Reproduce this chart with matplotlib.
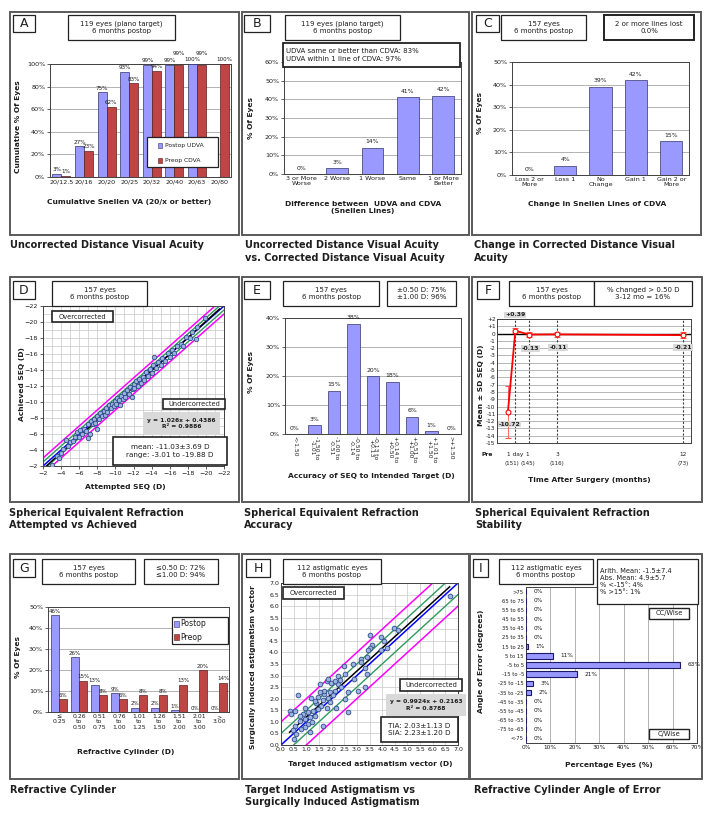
import numpy as np
import matplotlib
matplotlib.use('Agg')
import matplotlib.pyplot as plt
from matplotlib.patches import Rectangle
from matplotlib.transforms import blended_transform_factory

# ---------------- data ----------------
a_cats = ['20/12.5', '20/16', '20/20', '20/25', '20/32', '20/40', '20/63', '20/80']
a_udva = [3, 27, 75, 93, 99, 99, 100, np.nan]
a_cdva = [1, 23, 62, 83, 94, 99, 99, 100]

b_cats = ['3 or More\nWorse', '2 Worse', '1 Worse', 'Same', '1 or More\nBetter']
b_vals = [0, 3, 14, 41, 42]

c_cats = ['Loss 2 or\nMore', 'Loss 1', 'No\nChange', 'Gain 1', 'Gain 2 or\nMore']
c_vals = [0, 4, 39, 42, 15]

d_attempted = [-3.0, -3.5, -3.8, -4.0, -4.2, -4.5, -4.8, -5.0, -5.3, -5.5,
               -5.8, -6.0, -6.1, -6.3, -6.5, -6.8, -7.0, -7.0, -7.2, -7.3,
               -7.5, -7.6, -7.8, -8.0, -8.0, -8.2, -8.3, -8.5, -8.7, -8.8,
               -9.0, -9.1, -9.3, -9.5, -9.6, -9.8, -10.0, -10.1, -10.2, -10.4,
               -10.5, -10.6, -10.8, -11.0, -11.1, -11.3, -11.5, -11.6, -11.8, -11.9,
               -12.0, -12.1, -12.3, -12.5, -12.6, -12.8, -13.0, -13.2, -13.4, -13.6,
               -13.8, -14.0, -14.2, -14.3, -14.5, -14.7, -15.0, -15.2, -15.5, -15.8,
               -16.0, -16.3, -16.5, -16.8, -17.2, -17.5, -17.8, -18.2, -18.5, -18.9,
               -19.0, -19.9]
d_achieved = [-2.1, -3.3, -3.0, -3.6, -4.1, -5.2, -4.5, -5.0, -5.1, -5.6,
              -6.3, -5.6, -6.5, -6.0, -6.6, -6.4, -5.5, -7.2, -6.0, -7.6,
              -7.2, -7.9, -7.4, -6.6, -8.2, -7.9, -8.6, -8.3, -8.9, -8.4,
              -9.2, -8.7, -9.6, -9.2, -9.8, -9.5, -10.1, -9.7, -10.5, -10.2,
              -9.6, -10.8, -10.4, -11.1, -10.6, -11.5, -11.0, -11.9, -10.6, -11.6,
              -12.2, -11.8, -12.6, -12.0, -12.9, -12.4, -13.1, -12.8, -13.7, -13.2,
              -14.1, -13.6, -14.6, -15.6, -14.2, -15.0, -14.6, -15.5, -15.1, -16.1,
              -15.6, -16.5, -16.1, -17.0, -17.3, -17.0, -18.1, -18.0, -18.7, -17.9,
              -19.4, -20.5]
d_slope, d_icpt, d_r2 = 1.026, 0.4386, 0.9886

e_cats = ['<-1.50', '-1.50 to\n-1.01', '-1.00 to\n-0.51', '-0.50 to\n-0.14', '-0.13 to\n+0.13',
          '+0.14 to\n+0.50', '+0.51 to\n+1.00', '+1.01 to\n+1.50', '>+1.50']
e_vals = [0, 3, 15, 38, 20, 18, 6, 1, 0]

f_time = [-0.5, 0.03, 1, 3, 12]
f_mean = [-10.72, 0.39, -0.13, -0.11, -0.21]
f_sd = [3.6, 0.35, 0.3, 0.35, 0.4]
f_lab = ['-10.72', '+0.39', '-0.13', '-0.11', '-0.21']

g_cats = ['≤\n0.25', '0.26\nto\n0.50', '0.51\nto\n0.75', '0.76\nto\n1.00', '1.01\nto\n1.25',
          '1.26\nto\n1.50', '1.51\nto\n2.00', '2.01\nto\n3.00', '>\n3.00']
g_post = [46, 26, 13, 9, 2, 2, 1, 0, 0]
g_pre = [6, 15, 8, 6, 8, 8, 13, 20, 14]

h_tia = [6.67, 4.45, 4.63, 3.51, 3.97, 4.06, 3.60, 3.50, 3.44, 4.20,
         3.97, 3.41, 3.15, 3.18, 2.49, 2.85, 3.31, 2.52, 2.25, 2.89,
         3.41, 3.31, 2.65, 1.83, 1.53, 1.99, 2.25, 2.39, 2.12, 1.92,
         1.72, 2.05, 1.86, 1.66, 1.46, 1.20, 0.67, 1.40, 1.60, 1.80,
         2.19, 1.46, 1.27, 1.07, 2.65, 0.87, 1.33, 1.13, 0.94, 0.34,
         0.54, 0.41, 0.74, 1.07, 1.66, 0.54, 0.81, 0.47, 1.13, 0.51,
         0.60, 0.94, 1.24, 2.12, 2.32, 1.86, 1.72, 1.53, 1.33, 0.94,
         0.74, 1.92, 2.52, 3.04]
h_sia = [6.42, 5.04, 4.98, 4.77, 4.68, 4.50, 4.30, 4.20, 4.10, 4.20,
         4.10, 3.80, 3.70, 3.60, 3.40, 3.50, 3.33, 3.07, 3.00, 2.85,
         3.07, 2.50, 2.28, 2.78, 2.64, 2.67, 2.64, 2.50, 2.35, 2.28,
         2.20, 2.14, 2.03, 1.95, 2.06, 2.03, 2.17, 1.80, 1.70, 1.62,
         1.60, 1.56, 1.48, 1.41, 1.41, 1.34, 1.27, 1.20, 1.12, 1.48,
         1.48, 1.34, 1.05, 0.91, 0.84, 0.84, 0.70, 0.63, 0.55, 0.26,
         0.48, 0.77, 0.99, 2.78, 2.80, 2.86, 2.35, 2.28, 1.91, 1.62,
         1.26, 1.84, 1.99, 2.35]
h_slope, h_icpt, h_r2 = 0.9924, 0.2163, 0.8788

i_cats = ['>75', '65 to 75', '55 to 65', '45 to 55', '35 to 45', '25 to 35', '15 to 25',
          '5 to 15', '-5 to 5', '-15 to -5', '-25 to -15', '-35 to -25', '-45 to -35',
          '-55 to -45', '-65 to -55', '-75 to -65', '<-75']
i_vals = [0, 0, 0, 0, 0, 0, 1, 11, 63, 21, 3, 2, 0, 0, 0, 0, 0]

# ---------------- style helpers ----------------
plt.rcParams['font.family'] = ['DejaVu Sans']
W, H = 716, 816
fig = plt.figure(figsize=(W / 100, H / 100), dpi=100)
fig.patch.set_facecolor('white')

TXT = '#1e1e1e'
BLUE, BLUE_E = '#9999FF', '#33336E'
RED, RED_E = '#BE4543', '#5C1E1E'
GRID = '#A6A6A6'


def fx(x):
    return x / W


def fy(y):
    return 1 - y / H


def add_ax(x0, y0, x1, y1, fs=4.6):
    ax = fig.add_axes([fx(x0), fy(y1), (x1 - x0) / W, (y1 - y0) / H])
    for s in ax.spines.values():
        s.set_color('#404040')
        s.set_linewidth(0.7)
    ax.tick_params(labelsize=fs, length=2, width=0.5, pad=1.5, colors=TXT)
    return ax


def rect(x0, y0, x1, y1, ec='#222222', fc='white', lw=0.9, z=2):
    fig.add_artist(Rectangle((fx(x0), fy(y1)), (x1 - x0) / W, (y1 - y0) / H,
                             transform=fig.transFigure, ec=ec, fc=fc, lw=lw, zorder=z))


def ftext(x, y, s, size=5, ha='center', va='center', weight='normal', rot=0, color=TXT, ls=1.25):
    fig.text(fx(x), fy(y), s, fontsize=size, ha=ha, va=va, fontweight=weight,
             rotation=rot, color=color, linespacing=ls, zorder=8)


def tbox(x0, y0, x1, y1, s, size=5, lw=0.9, fc='white', ec='#222222', weight='normal', ha='center', ls=1.25):
    rect(x0, y0, x1, y1, ec=ec, fc=fc, lw=lw, z=5)
    if ha == 'center':
        ftext((x0 + x1) / 2, (y0 + y1) / 2, s, size=size, weight=weight, ls=ls)
    else:
        ftext(x0 + 3, (y0 + y1) / 2, s, size=size, ha='left', weight=weight, ls=ls)


def frame(x0, y0, x1, y1):
    rect(x0, y0, x1, y1, ec='#5a5a5a', fc='none', lw=1.4, z=1)


def bar_labels(ax, xs, vals, fs=4.4, dy=1.2):
    if np.isscalar(dy):
        dy = [dy] * len(vals)
    for xi, v, d in zip(xs, vals, dy):
        if not np.isnan(v):
            ax.annotate(f'{v:.0f}%', (xi, v), xytext=(0, d), textcoords='offset points',
                        ha='center', va='bottom', fontsize=fs, color=TXT)


def pct_axis(ax, top, step):
    ax.set_ylim(0, top)
    ticks = list(range(0, top + 1, step))
    ax.set_yticks(ticks)
    ax.set_yticklabels([f'{t}%' for t in ticks])
    ax.yaxis.grid(True, color=GRID, lw=0.6)
    ax.set_axisbelow(True)


CAP = 7.0
XL = 5.4

# ---------------- panel frames ----------------
frame(10, 12, 239, 235); frame(242, 12, 469, 235); frame(472, 12, 701, 235)
frame(10, 277, 239, 502); frame(242, 277, 469, 502); frame(472, 277, 702, 502)
frame(10, 554, 239, 779); frame(242, 554, 469, 779); frame(470, 554, 702, 779)

# ---------------- Panel A ----------------
ax = add_ax(50, 64, 231, 177)
xa = np.arange(len(a_cats))
ax.bar(xa - 0.2, a_udva, 0.4, color=BLUE, edgecolor=BLUE_E, lw=0.5, zorder=3)
ax.bar(xa + 0.2, a_cdva, 0.4, color=RED, edgecolor=RED_E, lw=0.5, zorder=3)
ax.set_xlim(-0.5, len(a_cats) - 0.5)
pct_axis(ax, 100, 20)
ax.set_xticks(xa)
ax.set_xticklabels(a_cats)
ax.tick_params(axis='x', length=0)
a_blue_dy = [1.2, 1.2, 1.2, 1.2, 1.2, 1.2, 1.2, 1.2]
a_red_dy = [1.2, 1.2, 1.2, 1.2, 1.2, 6.5, 6.5, 1.2]
bar_labels(ax, xa - 0.2, a_udva, fs=4.1, dy=a_blue_dy)
bar_labels(ax, xa + 0.2, a_cdva, fs=4.1, dy=a_red_dy)
rect(147, 137, 218, 167, lw=0.9, z=5)
rect(158, 143, 162, 148, fc=BLUE, ec=BLUE_E, lw=0.4, z=6)
ftext(165, 145.5, 'Postop UDVA', size=4.3, ha='left')
rect(158, 158, 162, 163, fc=RED, ec=RED_E, lw=0.4, z=6)
ftext(165, 160.5, 'Preop CDVA', size=4.3, ha='left')
ftext(129, 202, 'Cumulative Snellen VA (20/x or better)', size=XL, weight='bold')
ftext(18, 127, 'Cumulative % Of Eyes', size=XL, weight='bold', rot=90)
tbox(13, 15, 35, 32, 'A', size=9)
tbox(68, 15, 175, 40, '119 eyes (plano target)\n6 months postop')
ftext(10, 245.5, 'Uncorrected Distance Visual Acuity', size=CAP, weight='bold', ha='left')

# ---------------- Panel B ----------------
ax = add_ax(284, 62, 461, 174)
xb = np.arange(len(b_cats))
ax.bar(xb, b_vals, 0.62, color=BLUE, edgecolor=BLUE_E, lw=0.5, zorder=3)
ax.set_xlim(-0.5, len(b_cats) - 0.5)
pct_axis(ax, 60, 10)
ax.set_xticks(xb)
ax.set_xticklabels(b_cats, linespacing=1.1)
ax.tick_params(axis='x', length=0)
bar_labels(ax, xb, b_vals, dy=2.5)
tbox(283, 43, 460, 67, 'UDVA same or better than CDVA: 83%\nUDVA within 1 line of CDVA: 97%',
     size=5, lw=1.3, ha='left')
ftext(363, 207, 'Difference between  UDVA and CDVA\n(Snellen Lines)', size=XL, weight='bold', ls=1.2)
ftext(251, 118, '% Of Eyes', size=XL, weight='bold', rot=90)
tbox(244, 15, 270, 32, 'B', size=9)
tbox(285, 15, 400, 40, '119 eyes (plano target)\n6 months postop')
ftext(245, 245.5, 'Uncorrected Distance Visual Acuity', size=CAP, weight='bold', ha='left')
ftext(245, 258, 'vs. Corrected Distance Visual Acuity', size=CAP, weight='bold', ha='left')

# ---------------- Panel C ----------------
ax = add_ax(512, 62, 689, 175)
xc = np.arange(len(c_cats))
ax.bar(xc, c_vals, 0.63, color=BLUE, edgecolor=BLUE_E, lw=0.5, zorder=3)
ax.set_xlim(-0.5, len(c_cats) - 0.5)
pct_axis(ax, 50, 10)
ax.set_xticks(xc)
ax.set_xticklabels(c_cats, linespacing=1.1)
ax.tick_params(axis='x', length=0)
bar_labels(ax, xc, c_vals, dy=2.5)
ftext(597, 204, 'Change in Snellen Lines of CDVA', size=XL, weight='bold')
ftext(480, 113, '% Of Eyes', size=XL, weight='bold', rot=90)
tbox(476, 15, 499, 32, 'C', size=9)
tbox(501, 15, 586, 40, '157 eyes\n6 months postop')
tbox(604, 15, 694, 40, '2 or more lines lost\n0.0%', lw=1.4)
ftext(474, 245.5, 'Change in Corrected Distance Visual', size=CAP, weight='bold', ha='left')
ftext(474, 258, 'Acuity', size=CAP, weight='bold', ha='left')

# ---------------- Panel D ----------------
ax = add_ax(43, 306, 224, 466)
ax.set_xlim(-2, -22)
ax.set_ylim(-2, -22)
ax.set_xticks(np.arange(-2, -23, -2))
ax.set_yticks(np.arange(-2, -23, -2))
ax.set_xticks(np.arange(-2, -23, -1), minor=True)
ax.set_yticks(np.arange(-2, -23, -1), minor=True)
ax.tick_params(which='minor', length=0)
ax.grid(True, which='both', color='#C8C8C8', lw=0.5)
ax.set_axisbelow(True)
xx = np.array([-2.0, -22.0])
ax.plot(xx, xx + 1.0, color='#FF00FF', lw=1.1, zorder=2)
ax.plot(xx, xx - 1.0, color='#FF00FF', lw=1.1, zorder=2)
ax.plot(xx, xx + 0.5, color='#2E9A5E', lw=1.0, zorder=2)
ax.plot(xx, xx - 0.5, color='#2E9A5E', lw=1.0, zorder=2)
ax.plot(xx, xx, color='#0000FF', lw=1.1, zorder=2)
xr = np.array([-2.0, -21.5])
ax.plot(xr, d_slope * xr + d_icpt, color='black', lw=1.1, zorder=3)
ax.plot(d_attempted, d_achieved, 'o', ms=3.2, mfc='#9DB3E0', mec='#2E4C8C', mew=0.6, zorder=4)
ftext(125, 487, 'Attempted SEQ (D)', size=XL, weight='bold')
ftext(22, 384, 'Achieved SEQ (D)', size=XL, weight='bold', rot=90)
tbox(52, 311, 113, 322, 'Overcorrected', size=4.8, lw=1.2)
tbox(163, 399, 225, 409, 'Undercorrected', size=4.8, lw=1.2)
rect(143, 412, 220, 435, fc='#D9D9D9', ec='none', z=5)
ftext(181.5, 423.5, f'y = {d_slope}x + {d_icpt}\nR² = {d_r2}', size=4.3, weight='bold')
tbox(113, 437, 227, 465, 'mean: -11.03±3.69 D\nrange: -3.01 to -19.88 D', size=5.2, lw=1.2)
tbox(13, 281, 35, 299, 'D', size=9)
tbox(52, 281, 147, 306, '157 eyes\n6 months postop')
ftext(9, 512.7, 'Spherical Equivalent Refraction', size=CAP, weight='bold', ha='left')
ftext(9, 525.2, 'Attempted vs Achieved', size=CAP, weight='bold', ha='left')

# ---------------- Panel E ----------------
ax = add_ax(285, 318, 461, 434)
xe = np.arange(len(e_cats))
ax.bar(xe, e_vals, 0.65, color=BLUE, edgecolor=BLUE_E, lw=0.5, zorder=3)
ax.set_xlim(-0.5, len(e_cats) - 0.5)
pct_axis(ax, 40, 10)
ax.set_xticks(xe)
ax.set_xticklabels(e_cats, rotation=-90, fontsize=4.3, linespacing=1.05)
ax.tick_params(axis='x', length=0)
bar_labels(ax, xe, e_vals, dy=2.5)
ftext(371, 476, 'Accuracy of SEQ to Intended Target (D)', size=XL, weight='bold')
ftext(251, 372, '% Of Eyes', size=XL, weight='bold', rot=90)
tbox(244, 281, 270, 299, 'E', size=9)
tbox(283, 281, 379, 306, '157 eyes\n6 months postop')
tbox(387, 281, 456, 306, '±0.50 D: 75%\n±1.00 D: 96%')
ftext(244, 512.7, 'Spherical Equivalent Refraction', size=CAP, weight='bold', ha='left')
ftext(244, 525.2, 'Accuracy', size=CAP, weight='bold', ha='left')

# ---------------- Panel F ----------------
fx0, fy0, fx1, fy1 = 497, 319, 691, 443
ax = add_ax(fx0, fy0, fx1, fy1, fs=4.2)
ax.set_xlim(-1.28, 12.57)
ax.set_ylim(-15, 2)
yt = list(range(-15, 3))
ax.set_yticks(yt)
ax.set_yticklabels([f'+{t}' if t > 0 else f'{t}' for t in yt])
ax.tick_params(axis='y', length=0, pad=1)
ax.set_xticks([])
ax.yaxis.grid(True, color='#9A9A9A', lw=0.5)
ax.set_axisbelow(True)
ax.axhline(0, color='black', lw=1.0, zorder=1)
for t in f_time[1:]:
    ax.axvline(t, color='#404040', lw=0.8, ls=(0, (2, 1.5)), zorder=1)
ax.errorbar(f_time, f_mean, yerr=f_sd, color='#FF0000', lw=1.3, marker='o', ms=3.5,
            mfc='white', mec='#FF0000', mew=0.8, capsize=2, elinewidth=0.6,
            ecolor='#FF5050', zorder=4)
f_lab_pos = [(-0.4, -12.4), (0.03, 2.55), (1.1, -2.0), (3.07, -1.9), (12.0, -1.9)]
for lab, (lx, ly) in zip(f_lab, f_lab_pos):
    ax.text(lx, ly, lab, ha='center', va='center', fontsize=4.4, fontweight='bold', color=TXT,
            clip_on=False, zorder=6,
            bbox=dict(boxstyle='square,pad=0.15', fc='#D9D9D9', ec='none'))
trf = blended_transform_factory(ax.transData, ax.transAxes)
ty1 = (fy1 - 455) / (fy1 - fy0)
ty2 = (fy1 - 464) / (fy1 - fy0)
f_tick_top = ['1 day', '1', '3', '12']
f_tick_n = ['(151)', '(145)', '(116)', '(73)']
f_tick_x = [0.03, 0.86, 3, 12]
f_tick_nx = [-0.22, 0.95, 3, 12]
for tx, s in zip(f_tick_x, f_tick_top):
    ax.text(tx, ty1, s, transform=trf, ha='center', va='center', fontsize=4.2, color=TXT, clip_on=False)
for tx, s in zip(f_tick_nx, f_tick_n):
    ax.text(tx, ty2, s, transform=trf, ha='center', va='center', fontsize=4.0, color=TXT, clip_on=False)
ftext(487, 455, 'Pre', size=4.3, weight='bold')
ftext(589, 480, 'Time After Surgery (months)', size=XL, weight='bold')
ftext(481, 385, 'Mean ± SD SEQ (D)', size=XL, weight='bold', rot=90)
tbox(477, 281, 499, 299, 'F', size=9)
tbox(509, 281, 594, 306, '157 eyes\n6 months postop')
tbox(594, 281, 692, 306, '% changed > 0.50 D\n3-12 mo = 16%')
ftext(475, 512.7, 'Spherical Equivalent Refraction', size=CAP, weight='bold', ha='left')
ftext(475, 525.2, 'Stability', size=CAP, weight='bold', ha='left')

# ---------------- Panel G ----------------
ax = add_ax(48, 607, 229, 712)
xg = np.arange(len(g_cats))
ax.bar(xg - 0.21, g_post, 0.42, color=BLUE, edgecolor=BLUE_E, lw=0.5, zorder=3)
ax.bar(xg + 0.21, g_pre, 0.42, color=RED, edgecolor=RED_E, lw=0.5, zorder=3)
ax.set_xlim(-0.55, len(g_cats) - 0.5)
pct_axis(ax, 50, 10)
ax.set_xticks(xg)
ax.set_xticklabels(g_cats, fontsize=4.4, linespacing=1.1)
ax.tick_params(axis='x', length=0)
bar_labels(ax, xg - 0.21, g_post, fs=4.0, dy=1.0)
bar_labels(ax, xg + 0.21, g_pre, fs=4.0, dy=1.0)
rect(172, 617, 228, 644, lw=0.9, z=5)
rect(174, 621, 179, 627, fc=BLUE, ec=BLUE_E, lw=0.4, z=6)
ftext(180, 624, 'Postop', size=5.6, ha='left')
rect(174, 634, 179, 640, fc=RED, ec=RED_E, lw=0.4, z=6)
ftext(180, 637, 'Preop', size=5.6, ha='left')
ftext(126, 752, 'Refractive Cylinder (D)', size=XL, weight='bold')
ftext(18, 657, '% Of Eyes', size=XL, weight='bold', rot=90)
tbox(13, 559, 35, 577, 'G', size=9)
tbox(42, 559, 135, 584, '157 eyes\n6 months postop')
tbox(144, 559, 218, 584, '≤0.50 D: 72%\n≤1.00 D: 94%')
ftext(10, 789.6, 'Refractive Cylinder', size=CAP, weight='bold', ha='left')

# ---------------- Panel H ----------------
ax = add_ax(281, 583, 458, 745, fs=4.5)
ax.set_xlim(0, 7)
ax.set_ylim(0, 7)
ht = np.arange(0, 7.01, 0.5)
ax.set_xticks(ht)
ax.set_yticks(ht)
ax.set_xticklabels([f'{t:.1f}' for t in ht])
ax.set_yticklabels([f'{t:.1f}' for t in ht])
ax.tick_params(length=0, pad=1.5)
ax.grid(True, color='#C8C8C8', lw=0.5)
ax.set_axisbelow(True)
hx = np.array([0.0, 7.0])
ax.plot(hx, hx + 1.0, color='#FF00FF', lw=1.1, zorder=2)
ax.plot(hx, hx - 1.0, color='#FF00FF', lw=1.1, zorder=2)
ax.plot(hx, hx + 0.5, color='#2E9A5E', lw=1.0, zorder=2)
ax.plot(hx, hx - 0.5, color='#2E9A5E', lw=1.0, zorder=2)
ax.plot(hx, hx, color='#0000FF', lw=1.1, zorder=2)
hr = np.array([min(h_tia), max(h_tia)])
ax.plot(hr, h_slope * hr + h_icpt, color='black', lw=1.1, zorder=3)
ax.plot(h_tia, h_sia, 'o', ms=3.4, mfc='#9DB3E0', mec='#2E4C8C', mew=0.6, zorder=4)
ftext(370, 764, 'Target induced astigmatism vector (D)', size=XL, weight='bold')
ftext(253, 667, 'Surgically induced astigmatism vector', size=XL, weight='bold', rot=90)
tbox(283, 587, 344, 599, 'Overcorrected', size=4.8, lw=1.2)
tbox(400, 679, 462, 691, 'Undercorrected', size=4.8, lw=1.2)
rect(386, 694, 466, 716, fc='#D9D9D9', ec='none', z=5)
ftext(426, 705, f'y = {h_slope}x + {h_icpt}\nR² = {h_r2}', size=4.3, weight='bold')
tbox(381, 717, 458, 742, 'TIA: 2.03±1.13 D\nSIA: 2.23±1.20 D', size=5.2, lw=1.2)
tbox(246, 559, 270, 577, 'H', size=9)
tbox(283, 559, 381, 584, '112 astigmatic eyes\n6 months postop')
ftext(245, 789.6, 'Target Induced Astigmatism vs', size=CAP, weight='bold', ha='left')
ftext(245, 802.1, 'Surgically Induced Astigmatism', size=CAP, weight='bold', ha='left')

# ---------------- Panel I ----------------
ax = add_ax(526, 587, 697, 743, fs=4.2)
yi = np.arange(len(i_cats))
ax.barh(yi, i_vals, 0.6, color=BLUE, edgecolor='#1A1A66', lw=0.8, zorder=3)
ax.set_ylim(len(i_cats) - 0.5, -0.5)
ax.set_xlim(0, 70)
xt = list(range(0, 71, 10))
ax.set_xticks(xt)
ax.set_xticklabels([f'{t}%' for t in xt])
ax.set_yticks(yi)
ax.set_yticklabels(i_cats, fontsize=3.8)
ax.tick_params(length=0)
ax.xaxis.grid(True, color=GRID, lw=0.6)
ax.set_axisbelow(True)
for yv, v in zip(yi, i_vals):
    ax.text(v + 3, yv, f'{v}%', va='center', ha='left', fontsize=4.2, color=TXT, clip_on=False)
ftext(609, 765, 'Percentage Eyes (%)', size=XL, weight='bold')
ftext(481, 661, 'Angle of Error (degrees)', size=XL, weight='bold', rot=90)
tbox(649, 608, 689, 619, 'CC/Wise', size=4.8, lw=1.0)
tbox(649, 729, 689, 739, 'C/Wise', size=4.8, lw=1.0)
tbox(473, 559, 488, 577, 'I', size=9)
tbox(499, 559, 593, 584, '112 astigmatic eyes\n6 months postop')
tbox(597, 559, 698, 604, 'Arith. Mean: -1.5±7.4\nAbs. Mean: 4.9±5.7\n% <-15°: 4%\n% >15°: 1%',
     size=4.8, ha='left', ls=1.2)
ftext(474, 789.6, 'Refractive Cylinder Angle of Error', size=CAP, weight='bold', ha='left')

fig.savefig('out.png', dpi=100, facecolor='white')
